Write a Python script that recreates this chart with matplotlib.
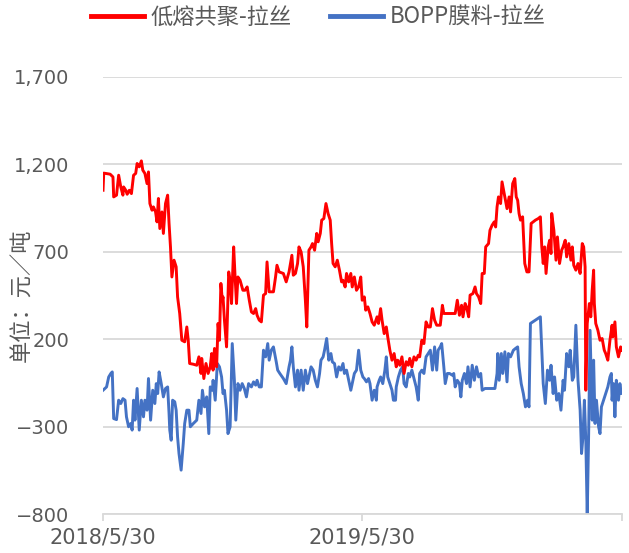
import matplotlib
matplotlib.use("Agg")
import matplotlib.pyplot as plt
from matplotlib.ticker import FuncFormatter
from matplotlib.lines import Line2D
import numpy as np

plt.rcParams['font.family'] = ['Noto Sans CJK SC', 'DejaVu Sans']

start = np.datetime64('2018-05-30')

# days after 2018/5/30 and price spread (元/吨)
red_day = [0, 1, 10, 14, 15, 19, 22, 25, 28, 29, 32, 34, 37, 40, 43, 46, 48, 51, 54, 56,
           59, 62, 64, 66, 69, 71, 74, 76, 78, 80, 83, 85, 88, 91, 93, 95, 97, 100, 103, 105,
           108, 111, 115, 118, 120, 122, 127, 132, 135, 138, 139, 142, 145, 148, 151, 153, 155, 157, 160, 162,
           164, 166, 168, 169, 171, 174, 177, 179, 181, 184, 186, 188, 190, 193, 197, 200, 203, 206, 209, 212,
           215, 217, 220, 223, 226, 229, 231, 234, 240, 243, 245, 248, 254, 258, 262, 266, 268, 271, 274, 276,
           279, 282, 285, 287, 290, 293, 295, 298, 301, 303, 306, 308, 311, 314, 317, 320, 322, 324, 327, 330,
           333, 336, 338, 341, 343, 346, 349, 351, 354, 357, 360, 363, 365, 368, 370, 373, 376, 379, 382, 386,
           388, 391, 393, 396, 399, 401, 404, 407, 410, 413, 415, 418, 421, 424, 427, 430, 432, 435, 438, 441,
           444, 446, 449, 452, 455, 458, 461, 464, 467, 470, 475, 478, 480, 489, 496, 499, 502, 505, 507, 510,
           512, 515, 517, 521, 524, 526, 529, 532, 534, 537, 539, 543, 545, 548, 551, 553, 555, 557, 560, 562,
           565, 568, 569, 572, 574, 577, 580, 582, 584, 586, 588, 591, 594, 597, 600, 603, 609, 613, 616, 618,
           620, 622, 624, 627, 629, 631, 632, 635, 638, 640, 643, 646, 648, 651, 653, 656, 659, 661, 663, 666,
           669, 672, 675, 677, 679, 680, 682, 685, 687, 689, 691, 692, 694, 697, 700, 703, 706, 708, 711, 714,
           717, 718, 721, 723, 726, 729, 731]
red_val = [1052, 1150, 1144, 1128, 1014, 1024, 1138, 1071, 1024, 1071, 1052, 1029, 1052, 1033, 1138, 1148, 1205, 1186, 1220, 1167,
           1148, 1090, 1157, 976, 938, 957, 928, 871, 1005, 833, 928, 805, 976, 1024, 862, 728, 556, 652, 614, 442,
           347, 194, 185, 270, 194, 61, 57, 51, 99, 4, 90, -25, 61, 4, 42, 118, 23, 147, 42, 290,
           194, 519, 423, 442, 309, 156, 585, 537, 404, 728, 556, 404, 556, 537, 480, 480, 499, 423, 356, 347,
           375, 337, 309, 299, 452, 461, 642, 471, 471, 556, 623, 585, 576, 528, 585, 680, 566, 576, 633, 728,
           699, 614, 423, 270, 709, 728, 747, 709, 805, 757, 805, 881, 890, 976, 919, 881, 747, 633, 614, 652,
           595, 528, 537, 499, 576, 528, 576, 499, 556, 480, 499, 556, 423, 442, 366, 385, 347, 299, 280, 328,
           290, 375, 309, 232, 270, 213, 137, 80, 118, 42, 80, 51, 99, 4, 71, 51, 90, 42, 99, 80,
           108, 99, 194, 175, 299, 270, 270, 375, 309, 280, 280, 394, 347, 347, 347, 423, 337, 394, 328, 404,
           385, 328, 452, 461, 499, 461, 442, 404, 576, 576, 728, 747, 823, 852, 871, 842, 957, 1014, 976, 1100,
           1033, 966, 947, 1014, 928, 1090, 1119, 1014, 995, 919, 881, 900, 633, 585, 585, 862, 881, 890, 900, 728,
           633, 728, 576, 728, 766, 690, 919, 823, 652, 785, 633, 709, 728, 766, 671, 747, 652, 728, 623, 595,
           633, 576, 747, 728, 614, -92, 290, 404, 328, 480, 595, 404, 290, 251, 194, 204, 137, 118, 80, 194,
           280, 213, 299, 156, 99, 156, 137]

blue_day = [0, 5, 8, 11, 13, 15, 19, 22, 25, 28, 31, 33, 36, 39, 41, 43, 45, 48, 51, 54,
            57, 59, 62, 64, 67, 70, 73, 75, 77, 79, 82, 85, 88, 91, 93, 94, 96, 98, 101, 103,
            105, 107, 110, 113, 115, 118, 121, 123, 127, 132, 135, 138, 140, 143, 146, 149, 151, 154, 155, 158,
            161, 164, 167, 169, 171, 174, 176, 179, 182, 185, 187, 190, 193, 196, 199, 202, 205, 209, 212, 215,
            217, 220, 223, 226, 229, 232, 234, 237, 240, 244, 246, 249, 254, 258, 262, 264, 266, 268, 271, 274,
            276, 279, 282, 285, 288, 290, 293, 296, 299, 302, 305, 307, 310, 312, 315, 318, 321, 323, 326, 329,
            332, 335, 338, 340, 343, 346, 349, 352, 354, 357, 360, 363, 366, 368, 371, 374, 376, 379, 382, 385,
            386, 389, 391, 394, 397, 399, 401, 404, 407, 409, 412, 413, 416, 419, 422, 424, 427, 430, 432, 435,
            438, 441, 444, 446, 449, 452, 455, 458, 461, 464, 467, 470, 472, 475, 477, 480, 482, 485, 488, 492,
            494, 496, 499, 502, 504, 506, 509, 512, 514, 517, 520, 523, 526, 529, 532, 534, 538, 545, 552, 555,
            556, 558, 561, 563, 566, 569, 571, 574, 578, 581, 584, 586, 589, 592, 595, 598, 600, 602, 609, 616,
            618, 620, 623, 626, 629, 631, 634, 636, 639, 642, 645, 648, 650, 653, 656, 658, 661, 663, 666, 669,
            672, 674, 676, 678, 680, 682, 684, 686, 689, 691, 693, 695, 698, 700, 702, 705, 708, 711, 714, 716,
            717, 719, 721, 723, 726, 728, 730, 731]
blue_val = [-92, -73, -16, 4, 13, -254, -260, -149, -168, -140, -149, -244, -301, -282, -320, -149, -263, -82, -320, -149,
            -244, -149, -206, -25, -263, -92, -168, -54, -111, 13, -54, -130, -82, -73, -225, -320, -378, -149, -158, -206,
            -359, -454, -549, -397, -283, -206, -206, -301, -283, -263, -149, -225, -92, -187, -130, -340, -73, -92, -35, -149,
            61, 42, -16, -111, -92, -206, -340, -301, 175, -35, -263, -54, -92, -54, -82, -130, -54, -73, -44, -63,
            -35, -73, -73, 137, 99, 175, 80, 137, 156, 70, 23, 4, -25, -54, 42, 80, 156, 42, -73, 23,
            -92, 23, -92, 23, -54, -16, 42, 23, -35, -73, 4, 80, 99, 137, 204, 80, 118, 70, 61, -16,
            42, 23, 61, 4, 23, -35, -92, -35, 4, 23, 137, 23, -16, -25, -44, -25, -54, -149, -92, -149,
            -73, -35, -16, -54, 23, 99, -16, -54, -92, -149, -149, -73, -16, 23, 42, -54, -73, 4, -16, 23,
            -25, -73, -149, 4, 23, 4, 99, 118, 137, 23, 156, 23, 137, 156, 175, 42, -54, 4, 4, -6,
            4, -73, -35, -54, -130, -35, 4, -54, 42, -73, 51, -35, 42, -16, 4, -92, -82, -82, -82, 4,
            118, -35, 118, 4, 128, -44, 118, 99, 137, 147, 156, 42, -54, -111, -187, -149, -187, 290, 309, 328,
            137, -54, -168, 23, -35, 51, -111, -16, -149, -111, -206, -35, -92, 118, 42, 137, -35, -16, 280, -35,
            -206, -454, -359, -149, -378, -807, -340, 251, -263, 80, -282, -149, -301, -340, -187, -149, -111, -73, -16, 4,
            -149, -54, -244, -35, -149, -54, -111, -92]

x_ticks = ['2018-05-30', '2019-05-30', '2020-05-30']
x_labels = ['2018/5/30', '2019/5/30', '']
y_ticks = [-800, -300, 200, 700, 1200, 1700]
names = ['低熔共聚-拉丝', 'BOPP膜料-拉丝']
colors = ['#ff0000', '#4472c4']

grey = '#595959'

fig = plt.figure(figsize=(6.29, 5.53), dpi=100)
ax = fig.add_axes([0.1638, 0.0705, 0.8251, 0.7903])

ax.plot(start + np.array(red_day), red_val, color=colors[0], lw=2.1, zorder=3)
ax.plot(start + np.array(blue_day), blue_val, color=colors[1], lw=2.1, zorder=2)

ax.set_ylim(-800, 1700)
ax.set_xlim(np.datetime64(x_ticks[0]), np.datetime64(x_ticks[-1]))
ax.set_yticks(y_ticks)
ax.yaxis.set_major_formatter(FuncFormatter(lambda v, p: '{:,}'.format(int(v)).replace('-', '\u2212')))
ax.set_xticks([np.datetime64(d) for d in x_ticks])
ax.set_xticklabels(x_labels)
for t in ax.get_yticklabels() + ax.get_xticklabels():
    t.set_family(['DejaVu Sans'])

ax.grid(axis='y', color='#d9d9d9', lw=1.3)
ax.set_axisbelow(True)
for s in ['left', 'right', 'top']:
    ax.spines[s].set_visible(False)
ax.spines['bottom'].set_color('#d9d9d9')
ax.spines['bottom'].set_linewidth(1.3)
ax.tick_params(axis='y', length=0, pad=24, labelsize=14, labelcolor=grey)
ax.tick_params(axis='x', length=5, width=1.3, color='#d9d9d9', pad=5, labelsize=15, labelcolor=grey)

fig.text(22 / 629, 1 - 295 / 553, '单位：元／吨', rotation=90, ha='center', va='center',
         fontsize=16, color=grey)

handles = [Line2D([], [], color=c, lw=3.5) for c in colors]
fig.legend(handles, names, loc='center', bbox_to_anchor=(0.506, 0.969), ncol=2, frameon=False,
           fontsize=16, labelcolor=grey, handlelength=2.4, columnspacing=1.7, handletextpad=0.3)

fig.savefig('out.png', dpi=100)
